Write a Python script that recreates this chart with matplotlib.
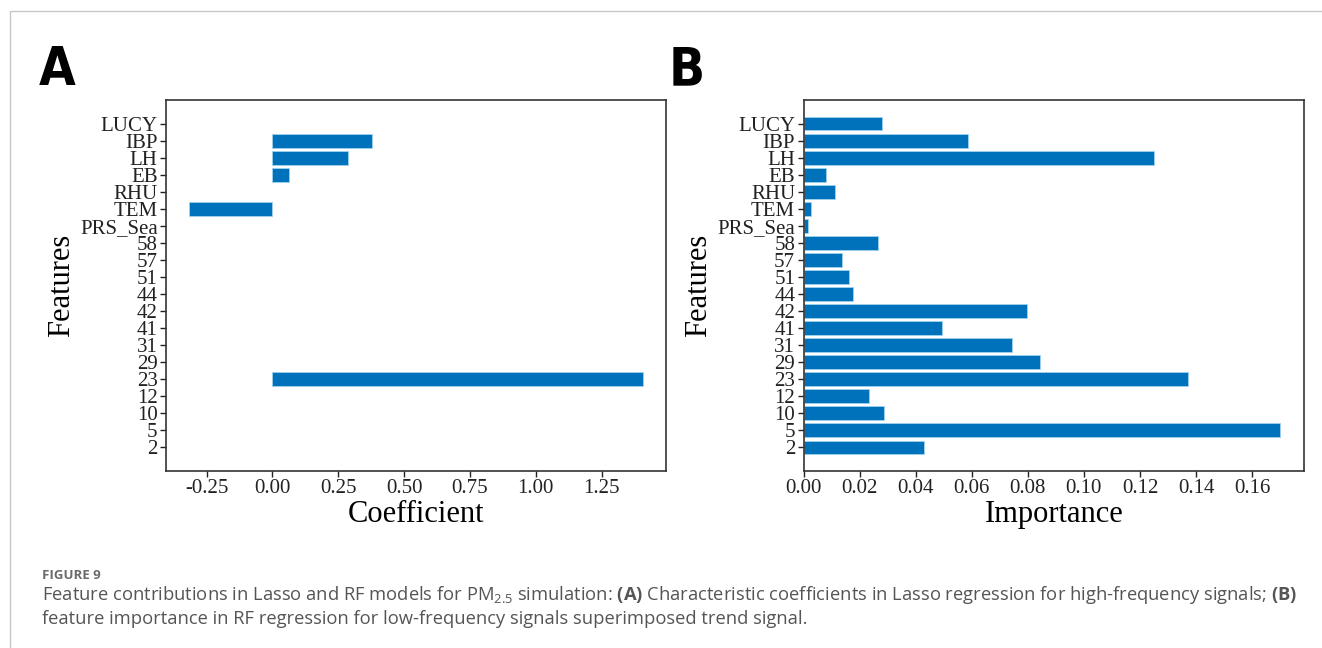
import matplotlib
matplotlib.use('Agg')
import matplotlib.pyplot as plt
from matplotlib.patches import Rectangle

# features from bottom to top
features = ['2', '5', '10', '12', '23', '29', '31', '41', '42', '44', '51', '57', '58',
            'PRS_Sea', 'TEM', 'RHU', 'EB', 'LH', 'IBP', 'LUCY']

# Lasso coefficients (A)
lasso_coef = [0, 0, 0, 0, 1.408, 0, 0, 0, 0, 0, 0, 0, 0,
              0, -0.318, 0, 0.064, 0.287, 0.379, 0]

# RF importance (B)
rf_importance = [0.0430, 0.1700, 0.0286, 0.0232, 0.1373, 0.0843, 0.0743, 0.0494, 0.0798,
                 0.0178, 0.0164, 0.0136, 0.0265, 0.0015, 0.0027, 0.0114, 0.0081, 0.1251,
                 0.0585, 0.0279]

caption_head = 'FIGURE 9'
caption_1 = ('Feature contributions in Lasso and RF models for PM$_{2.5}$ simulation: '
             r'$\bf{(A)}$ Characteristic coefficients in Lasso regression for high-frequency signals; '
             r'$\bf{(B)}$')
caption_2 = 'feature importance in RF regression for low-frequency signals superimposed trend signal.'

plt.rcParams['font.family'] = ['Liberation Serif', 'DejaVu Serif']
plt.rcParams['mathtext.fontset'] = 'custom'
plt.rcParams['mathtext.rm'] = 'Open Sans'
plt.rcParams['mathtext.bf'] = 'Open Sans:bold'

W, H = 1322, 648
fig = plt.figure(figsize=(W / 100, H / 100), dpi=100)

# card border (top and left edges visible)
fig.add_artist(Rectangle((10 / W, -0.1), 1.2, (648 - 11) / H + 0.1, transform=fig.transFigure,
                         fill=False, edgecolor='#c8c8c8', linewidth=1.0))

bar_color = '#0071BB'
edge_color = '#9fd3ef'


def panel(rect, values, xlabel):
    ax = fig.add_axes(rect)
    lw = [0.6 if v != 0 else 0 for v in values]
    ax.barh(range(len(features)), values, height=0.8, color=bar_color,
            edgecolor=edge_color, linewidth=lw)
    ax.set_yticks(range(len(features)))
    ax.set_yticklabels(features)
    ax.set_ylabel('Features', fontsize=22, labelpad=3)
    ax.set_xlabel(xlabel, fontsize=22, labelpad=1)
    ax.tick_params(labelsize=15, length=4, width=1.0, pad=2, colors='#222222')
    for s in ax.spines.values():
        s.set_linewidth(1.2)
        s.set_color('#333333')
    return ax


axA = panel([166 / W, (648 - 471) / H, 500 / W, 371 / H], lasso_coef, 'Coefficient')
axA.set_xticks([-0.25, 0, 0.25, 0.5, 0.75, 1.0, 1.25])
axA.set_xticklabels(['-0.25', '0.00', '0.25', '0.50', '0.75', '1.00', '1.25'])

axB = panel([803.5 / W, (648 - 471) / H, 500.5 / W, 371 / H], rf_importance, 'Importance')
axB.set_xticks([0, 0.02, 0.04, 0.06, 0.08, 0.10, 0.12, 0.14, 0.16])
axB.set_xticklabels(['0.00', '0.02', '0.04', '0.06', '0.08', '0.10', '0.12', '0.14', '0.16'])

# panel letters
letter_font = ['Liberation Sans Narrow', 'DejaVu Sans']
fig.text(39 / W, 1 - 85 / H, 'A', fontsize=38, fontweight='bold', fontstretch='condensed',
         family=letter_font)
fig.text(669 / W, 1 - 85 / H, 'B', fontsize=38, fontweight='bold', fontstretch='condensed',
         family=letter_font)

# caption
fig.text(42 / W, 1 - 579 / H, caption_head, fontsize=9.5, color='#6a6a6a', fontweight='bold',
         family=['Open Sans', 'DejaVu Sans'])
fig.text(42 / W, 1 - 600 / H, caption_1, fontsize=13.2, color='#555555',
         family=['Open Sans', 'DejaVu Sans'])
fig.text(42 / W, 1 - 624 / H, caption_2, fontsize=13.2, color='#555555',
         family=['Open Sans', 'DejaVu Sans'])

fig.savefig('out.png', dpi=100)
